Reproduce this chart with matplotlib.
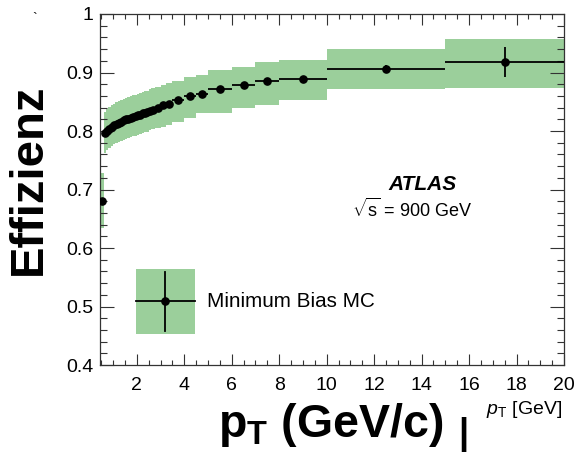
import matplotlib
matplotlib.use("Agg")
import matplotlib.pyplot as plt
import numpy as np
from matplotlib.legend_handler import HandlerBase
from matplotlib.patches import Rectangle
from matplotlib.lines import Line2D
from matplotlib.ticker import MultipleLocator, FuncFormatter, FixedLocator

plt.rcParams['font.family'] = ['Liberation Sans', 'DejaVu Sans']
plt.rcParams['mathtext.fontset'] = 'custom'
plt.rcParams['mathtext.rm'] = 'Liberation Sans'
plt.rcParams['mathtext.it'] = 'Liberation Sans:italic'
plt.rcParams['mathtext.bf'] = 'Liberation Sans:bold'

# ---- data ----
bin_edges = [0.50, 0.60, 0.70, 0.80, 0.90, 1.00, 1.10, 1.20, 1.30, 1.40, 1.50,
             1.60, 1.70, 1.80, 1.90, 2.00, 2.10, 2.20, 2.30, 2.40, 2.50, 2.60,
             2.75, 3.00, 3.25, 3.50, 4.00, 4.50, 5.00, 6.00, 7.00, 8.00,
             10.0, 15.0, 20.0]
efficiency = [0.680,
              0.796, 0.800, 0.804, 0.807, 0.810, 0.812, 0.814, 0.816, 0.818,
              0.820, 0.821, 0.823, 0.824, 0.825, 0.827, 0.828, 0.830, 0.831, 0.832,
              0.834, 0.836,
              0.840, 0.844, 0.847, 0.853, 0.859, 0.863, 0.872, 0.878, 0.886, 0.889,
              0.906, 0.918]
stat_err = [0.004,
            0.002, 0.002, 0.002, 0.002, 0.002, 0.002, 0.002, 0.002, 0.002,
            0.002, 0.002, 0.002, 0.002, 0.002, 0.002, 0.002, 0.002, 0.002, 0.002,
            0.002, 0.002,
            0.002, 0.002, 0.002, 0.002, 0.002, 0.003, 0.003, 0.003, 0.003, 0.004,
            0.007, 0.025]
band_low = [0.634,
            0.763, 0.767, 0.771, 0.774, 0.777, 0.779, 0.781, 0.783, 0.785,
            0.787, 0.788, 0.790, 0.791, 0.792, 0.794, 0.795, 0.797, 0.798, 0.799,
            0.801, 0.803,
            0.805, 0.807, 0.810, 0.816, 0.822, 0.831, 0.830, 0.839, 0.844, 0.853,
            0.872, 0.874]
band_high = [0.728,
             0.833, 0.837, 0.841, 0.844, 0.847, 0.849, 0.851, 0.853, 0.855,
             0.857, 0.858, 0.860, 0.861, 0.862, 0.864, 0.865, 0.867, 0.868, 0.869,
             0.871, 0.873,
             0.876, 0.879, 0.882, 0.886, 0.892, 0.896, 0.904, 0.910, 0.918, 0.922,
             0.940, 0.957]
x_ticks = [2, 4, 6, 8, 10, 12, 14, 16, 18, 20]
y_ticks = [0.4, 0.5, 0.6, 0.7, 0.8, 0.9, 1.0]
legend_label = "Minimum Bias MC"
band_color = '#9bcf9b'

edges = np.array(bin_edges)
lo_e = edges[:-1]
hi_e = edges[1:]
centers = 0.5 * (lo_e + hi_e)
half_w = 0.5 * (hi_e - lo_e)
blo = np.array(band_low)
bhi = np.array(band_high)

fig = plt.figure(figsize=(5.78, 4.55), dpi=100)
ax = fig.add_axes([100/578, 90/455, 464/578, 351/455])

ax.bar(lo_e, bhi - blo, bottom=blo, width=hi_e - lo_e, align='edge',
       color=band_color, linewidth=0, zorder=1)
eb = ax.errorbar(centers, efficiency, xerr=half_w, yerr=stat_err, fmt='o',
                 color='black', ms=5.2, elinewidth=1.3, capsize=0, zorder=3)

ax.set_xlim(0.45, 20)
ax.set_ylim(0.4, 1.0)
ax.xaxis.set_major_locator(FixedLocator(x_ticks))
ax.xaxis.set_minor_locator(MultipleLocator(0.5))
ax.yaxis.set_major_locator(FixedLocator(y_ticks))
ax.yaxis.set_minor_locator(MultipleLocator(0.02))
ax.xaxis.set_major_formatter(FuncFormatter(lambda v, p: f"{v:g}"))
ax.yaxis.set_major_formatter(FuncFormatter(lambda v, p: "1" if abs(v - 1) < 1e-9 else f"{v:.1f}"))

ax.tick_params(which='both', direction='in', top=True, right=True, color='#333333', width=0.8)
ax.tick_params(axis='x', which='major', length=7.7, pad=8.5, labelsize=14)
ax.tick_params(axis='x', which='minor', length=3.6)
ax.tick_params(axis='y', which='major', length=10, pad=5, labelsize=14)
ax.tick_params(axis='y', which='minor', length=5)
for s in ax.spines.values():
    s.set_linewidth(0.9)
    s.set_color('#333333')


class BandPointHandler(HandlerBase):
    def create_artists(self, legend, orig_handle, xdescent, ydescent, width, height, fontsize, trans):
        x0, y0 = -xdescent, -ydescent
        rect = Rectangle((x0, y0), width, height, facecolor=band_color, edgecolor='none', transform=trans)
        cx, cy = x0 + width / 2, y0 + height / 2
        hline = Line2D([x0, x0 + width], [cy, cy], color='black', lw=1.3, transform=trans)
        vline = Line2D([cx, cx], [y0 + 0.05 * height, y0 + 0.95 * height], color='black', lw=1.3, transform=trans)
        pt = Line2D([cx], [cy], marker='o', ms=5.2, color='black', linestyle='none', transform=trans)
        return [rect, hline, vline, pt]


leg = ax.legend([eb], [legend_label], handler_map={eb: BandPointHandler()},
                loc='upper left', bbox_to_anchor=(36/464, 96/351), frameon=False,
                fontsize=14.9, handlelength=2.85, handleheight=4.45, handletextpad=0.6,
                borderpad=0, borderaxespad=0)

ax.text(322/464, 180/351, "ATLAS", transform=ax.transAxes, ha='center', va='center',
        fontsize=15, fontweight='bold', fontstyle='italic')
ax.text(312/464, 156/351, r"$\sqrt{\mathrm{s}}$ = 900 GeV", transform=ax.transAxes,
        ha='center', va='center', fontsize=13)

fig.text(29/578, 276/455, "Effizienz", rotation=90, ha='center', va='center',
         fontsize=34, fontweight='bold')
fig.text(218/578, 18/455, r"$\mathbf{p}_{\mathbf{T}}$ (GeV/c)", ha='left', va='baseline',
         fontsize=33.5, fontweight='bold')
fig.text(463/578, 11/455, "|", ha='center', va='baseline', fontsize=26, fontweight='bold')
fig.text(486/578, 46/455, r"$p_{\mathrm{T}}$ [GeV]", ha='left', va='center', fontsize=14)
fig.text(35/578, 436/455, "`", ha='center', va='center', fontsize=10)

fig.savefig("out.png", dpi=100)
